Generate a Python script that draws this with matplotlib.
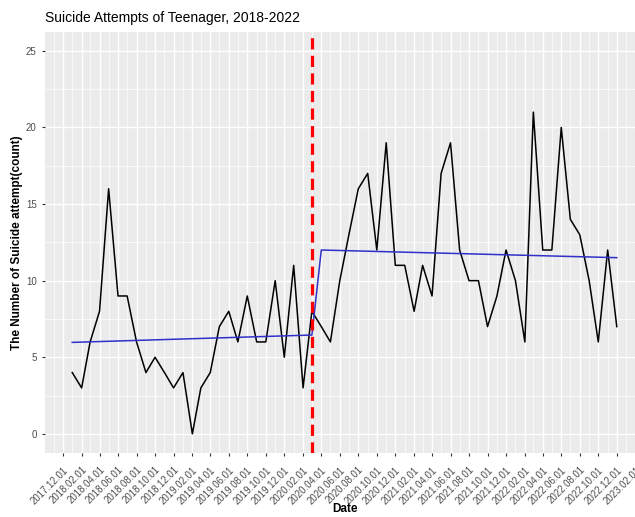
import numpy as np
import pandas as pd
import matplotlib
matplotlib.use("Agg")
import matplotlib.pyplot as plt
import matplotlib.dates as mdates

plt.rcParams['font.family'] = ['Liberation Sans', 'DejaVu Sans']

# monthly counts, 2018-01 .. 2022-12
start_month = '2018-01-01'
counts = [4, 3, 6, 8, 16, 9, 9, 6, 4, 5,
          4, 3, 4, 0, 3, 4, 7, 8, 6, 9,
          6, 6, 10, 5, 11, 3, 8, 7, 6, 10,
          13, 16, 17, 12, 19, 11, 11, 8, 11, 9,
          17, 19, 12, 10, 10, 7, 9, 12, 10, 6,
          21, 12, 12, 20, 14, 13, 10, 6, 12, 7]
months = pd.date_range(start_month, periods=len(counts), freq='MS')

# segmented trend (endpoints of the two fitted segments)
trend_dates = pd.to_datetime(['2018-01-01', '2020-03-01', '2020-04-01', '2022-12-01'])
trend_vals = [5.97, 6.45, 12.0, 11.5]

intervention = pd.Timestamp('2020-03-01')

fig = plt.figure(figsize=(6.35, 5.17), dpi=100)
ax = fig.add_axes([45 / 635, 1 - 453 / 517, 599 / 635, 421.3 / 517])
ax.set_facecolor('#EBEBEB')
for s in ax.spines.values():
    s.set_visible(False)

# ggplot-like expansion
d0, d1 = mdates.date2num(months[0]), mdates.date2num(months[-1])
pad = 0.05 * (d1 - d0)
ax.set_xlim(d0 - pad, d1 + pad)
ax.set_ylim(-1.25, 26.25)

ax.xaxis.set_major_locator(mdates.MonthLocator(bymonth=[2, 4, 6, 8, 10, 12]))
ax.xaxis.set_minor_locator(mdates.MonthLocator(bymonth=[1, 3, 5, 7, 9, 11]))
ax.xaxis.set_major_formatter(mdates.DateFormatter('%Y.%m.%d'))
ax.set_yticks([0, 5, 10, 15, 20, 25])
ax.set_yticks([2.5, 7.5, 12.5, 17.5, 22.5], minor=True)

ax.grid(which='major', color='white', lw=1.0)
ax.grid(which='minor', color='white', lw=0.5)
ax.set_axisbelow(True)

ax.tick_params(axis='both', which='major', length=2.5, width=0.8, color='#333333',
               labelcolor='#4D4D4D', labelsize=7)
ax.tick_params(axis='both', which='minor', length=0)
ax.tick_params(axis='x', pad=6, labelsize=6.9)
for lab in ax.get_xticklabels():
    lab.set_rotation(45)
    lab.set_ha('right')
    lab.set_va('top')
    lab.set_rotation_mode('anchor')

ax.plot(months, counts, color='black', lw=1.1)
ax.plot(trend_dates, trend_vals, color='#3030c8', lw=1.1)
ax.axvline(intervention, color='red', lw=2.3, ls=(0, (3.5, 2)))

fig.text(345 / 635, 1 - 509 / 517, 'Date', fontsize=8.5, fontweight='bold',
         ha='center', va='center')
ax.set_ylabel('The Number of Suicide attempt(count)', fontsize=8.5, fontweight='bold')
ax.yaxis.set_label_coords(-(45 - 23) / 599, 0.5)
fig.text(45 / 635, 1 - 18 / 517, 'Suicide Attempts of Teenager, 2018-2022', fontsize=10,
         ha='left', va='center')

fig.savefig('out.png', dpi=100)
